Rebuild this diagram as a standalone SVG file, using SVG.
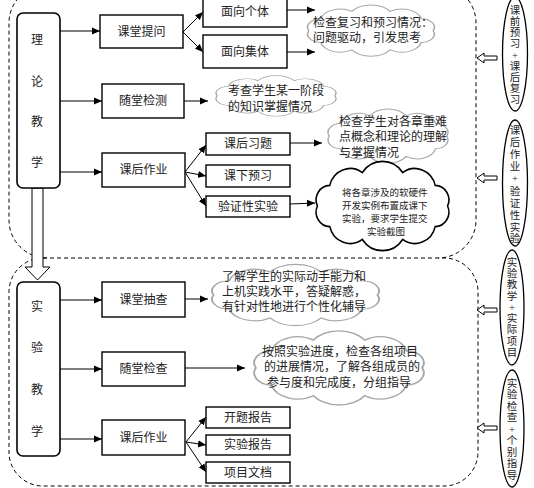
<svg xmlns="http://www.w3.org/2000/svg" width="534" height="488" viewBox="0 0 534 488">
<style>
text{font-family:"Liberation Serif","Noto Sans CJK SC",sans-serif;font-size:12px;fill:#222}
.box{fill:#fff;stroke:#000;stroke-width:1.4}
.tall{fill:#fff;stroke:#000;stroke-width:1.6}
.c{text-anchor:middle;dominant-baseline:central}
.l{dominant-baseline:central}
.dash{fill:none;stroke:#000;stroke-width:1;stroke-dasharray:4,3}
.ln{stroke:#000;stroke-width:1;fill:none;marker-end:url(#ah)}
.cloud{fill:#fff;stroke:#a8a8a8;stroke-width:1;vector-effect:non-scaling-stroke}
.cloudk{fill:#fff;stroke:#000;stroke-width:1;vector-effect:non-scaling-stroke}
.hollow{fill:#fff;stroke:#000;stroke-width:1}
.ell{fill:#fff;stroke:#000;stroke-width:1.3}
.small{font-size:9.5px}
.v{font-size:10.5px;text-anchor:middle;dominant-baseline:central}
</style>
<defs>
<marker id="ah" markerWidth="8" markerHeight="8" refX="8" refY="4" orient="auto" markerUnits="userSpaceOnUse"><path d="M0,0.5 L8,4 L0,7.5 Z" fill="#000"/></marker>
<path id="cl" d="M92,30 A9.1,9.1 0 0 1 84,42.9 A13.5,13.5 0 0 1 63,50.9 A15.6,15.6 0 0 1 37,50.9 A13.5,13.5 0 0 1 16,42.9 A9.1,9.1 0 0 1 8,30 A9.1,9.1 0 0 1 16,17.1 A13.5,13.5 0 0 1 37,9.1 A15.6,15.6 0 0 1 63,9.1 A13.5,13.5 0 0 1 84,17.1 A9.1,9.1 0 0 1 92,30 Z"/>
</defs>
<rect width="534" height="488" fill="#fff"/>

<g id="regions">
<path class="dash" d="M47,258 A38,38 0 0 1 9,220 L9,23 A38,38 0 0 1 47,-15 L438,-15 A38,38 0 0 1 476,23 L476,220 A38,38 0 0 1 438,258"/>
<rect class="dash" x="9" y="258" width="469" height="228" rx="34" ry="34"/>
</g>

<g id="connectors">
<line class="ln" x1="60" y1="31" x2="100" y2="31"/>
<line class="ln" x1="60" y1="101" x2="102" y2="101"/>
<line class="ln" x1="60" y1="172" x2="102" y2="172"/>
<line class="ln" x1="183" y1="32" x2="203" y2="12"/>
<line class="ln" x1="183" y1="32" x2="203" y2="52"/>
<line class="ln" x1="287" y1="10" x2="315" y2="10"/>
<line class="ln" x1="287" y1="52" x2="315" y2="52"/>
<line class="ln" x1="184" y1="101" x2="208" y2="101"/>
<line class="ln" x1="185" y1="172" x2="206" y2="145"/>
<line class="ln" x1="185" y1="172" x2="206" y2="176"/>
<line class="ln" x1="185" y1="172" x2="206" y2="206"/>
<line class="ln" x1="290" y1="143" x2="322" y2="143"/>
<line class="ln" x1="290" y1="204" x2="315" y2="203"/>
<line class="ln" x1="60" y1="300" x2="102" y2="300"/>
<line class="ln" x1="60" y1="369" x2="102" y2="369"/>
<line class="ln" x1="60" y1="439" x2="102" y2="439"/>
<line class="ln" x1="185" y1="299" x2="208" y2="299"/>
<line class="ln" x1="185" y1="368" x2="245" y2="368"/>
<line class="ln" x1="186" y1="442" x2="206" y2="417"/>
<line class="ln" x1="186" y1="442" x2="206" y2="445"/>
<line class="ln" x1="186" y1="442" x2="206" y2="472"/>
<path class="hollow" d="M32,188 L43,188 L43,267 L50,267 L37.5,280 L25,267 L32,267 Z"/>
<path class="hollow" d="M497,56 L484,56 L484,53 L477,58 L484,63 L484,60 L497,60 Z"/>
<path class="hollow" d="M497,176 L484,176 L484,173 L477,178 L484,183 L484,180 L497,180 Z"/>
<path class="hollow" d="M497,308 L484,308 L484,305 L477,310 L484,315 L484,312 L497,312 Z"/>
<path class="hollow" d="M497,426 L484,426 L484,423 L477,428 L484,433 L484,430 L497,430 Z"/>
</g>

<g id="n-lilun">
<rect class="tall" x="17" y="13" width="43" height="175" rx="6"/>
<text class="c" x="37" y="40">理</text>
<text class="c" x="37" y="82">论</text>
<text class="c" x="37" y="122">教</text>
<text class="c" x="37" y="163">学</text>
</g>
<g id="n-shiyan">
<rect class="tall" x="17" y="282" width="43" height="174" rx="6"/>
<text class="c" x="37" y="307">实</text>
<text class="c" x="37" y="348">验</text>
<text class="c" x="37" y="390">教</text>
<text class="c" x="37" y="432">学</text>
</g>

<g id="n-ketangtiwen"><rect class="box" x="100" y="15" width="83" height="33"/><text class="c" x="141.5" y="31.5">课堂提问</text></g>
<g id="n-suitangjiance"><rect class="box" x="102" y="84" width="82" height="34"/><text class="c" x="143" y="101">随堂检测</text></g>
<g id="n-kehouzuoye1"><rect class="box" x="102" y="153" width="83" height="34"/><text class="c" x="143.5" y="170">课后作业</text></g>
<g id="n-ketangchoucha"><rect class="box" x="102" y="282" width="83" height="35"/><text class="c" x="143.5" y="299.5">课堂抽查</text></g>
<g id="n-suitangjiancha"><rect class="box" x="102" y="352" width="83" height="34"/><text class="c" x="143.5" y="369">随堂检查</text></g>
<g id="n-kehouzuoye2"><rect class="box" x="102" y="420" width="83" height="35"/><text class="c" x="143.5" y="437.5">课后作业</text></g>

<g id="n-geti"><rect class="box" x="203" y="-2" width="84" height="29"/><text class="c" x="245" y="12">面向个体</text></g>
<g id="n-jiti"><rect class="box" x="203" y="35" width="84" height="33"/><text class="c" x="245" y="52">面向集体</text></g>
<g id="n-xiti"><rect class="box" x="206" y="133" width="84" height="22"/><text class="c" x="248" y="144">课后习题</text></g>
<g id="n-yuxi"><rect class="box" x="206" y="165" width="84" height="22"/><text class="c" x="248" y="176">课下预习</text></g>
<g id="n-yanzheng"><rect class="box" x="206" y="196" width="84" height="21"/><text class="c" x="248" y="206.5">验证性实验</text></g>
<g id="n-kaiti"><rect class="box" x="206" y="407" width="84" height="21"/><text class="c" x="248" y="417.5">开题报告</text></g>
<g id="n-shiyanbaogao"><rect class="box" x="206" y="435" width="84" height="20"/><text class="c" x="248" y="445">实验报告</text></g>
<g id="n-xiangmu"><rect class="box" x="206" y="462" width="84" height="21"/><text class="c" x="248" y="472.5">项目文档</text></g>

<g id="cloud1">
<use href="#cl" class="cloud" transform="translate(297,3) scale(1.48,0.92)"/>
<text class="l" x="313" y="23">检查复习和预习情况：</text>
<text class="l" x="313" y="38">问题驱动，引发思考</text>
</g>
<g id="cloud2">
<use href="#cl" class="cloud" transform="translate(206,74) scale(1.40,0.73)"/>
<text class="l" x="228" y="91">考查学生某一阶段</text>
<text class="l" x="228" y="107">的知识掌握情况</text>
</g>
<g id="cloud3">
<use href="#cl" class="cloud" transform="translate(318,107) scale(1.40,0.97)"/>
<text class="l" x="339" y="122">检查学生对各章重难</text>
<text class="l" x="339" y="137">点概念和理论的理解</text>
<text class="l" x="339" y="153">与掌握情况</text>
</g>
<g id="cloud4">
<use href="#cl" class="cloudk" transform="translate(305,158) scale(1.55,1.6)"/>
<text class="l small" x="342" y="193">将各章涉及的软硬件</text>
<text class="l small" x="342" y="206">开发实例布置成课下</text>
<text class="l small" x="342" y="219">实验，要求学生提交</text>
<text class="c small" x="386" y="232">实验截图</text>
</g>
<g id="cloud5">
<use href="#cl" class="cloud" transform="translate(198,262) scale(1.95,1.1)"/>
<text class="l" x="222" y="277">了解学生的实际动手能力和</text>
<text class="l" x="222" y="292">上机实践水平，答疑解惑，</text>
<text class="l" x="222" y="307">有针对性地进行个性化辅导</text>
</g>
<g id="cloud6">
<use href="#cl" class="cloud" transform="translate(240,328) scale(1.98,1.33)"/>
<text class="l" x="262" y="352">按照实验进度，检查各组项目</text>
<text class="l" x="264" y="367">的进展情况，了解各组成员的</text>
<text class="l" x="267" y="383">参与度和完成度，分组指导</text>
</g>

<g id="e1">
<ellipse class="ell" cx="515" cy="54" rx="12.5" ry="57"/>
<text class="v" x="515" y="10">课</text>
<text class="v" x="515" y="21">前</text>
<text class="v" x="515" y="32">预</text>
<text class="v" x="515" y="43.5">习</text>
<text class="v" x="515" y="55">+</text>
<text class="v" x="515" y="66">课</text>
<text class="v" x="515" y="77">后</text>
<text class="v" x="515" y="88">复</text>
<text class="v" x="515" y="99">习</text>
</g>
<g id="e2">
<ellipse class="ell" cx="515" cy="183" rx="12.5" ry="63"/>
<text class="v" x="515" y="130">课</text>
<text class="v" x="515" y="142">后</text>
<text class="v" x="515" y="154">作</text>
<text class="v" x="515" y="166">业</text>
<text class="v" x="515" y="178">+</text>
<text class="v" x="515" y="191">验</text>
<text class="v" x="515" y="203">证</text>
<text class="v" x="515" y="215">性</text>
<text class="v" x="515" y="227">实</text>
<text class="v" x="515" y="238">验</text>
</g>
<g id="e3">
<ellipse class="ell" cx="512" cy="307.5" rx="12" ry="57.5"/>
<text class="v" x="512" y="262">实</text>
<text class="v" x="512" y="273">验</text>
<text class="v" x="512" y="284.5">教</text>
<text class="v" x="512" y="296">学</text>
<text class="v" x="512" y="307">+</text>
<text class="v" x="512" y="318">实</text>
<text class="v" x="512" y="329.5">际</text>
<text class="v" x="512" y="341">项</text>
<text class="v" x="512" y="352">目</text>
</g>
<g id="e4">
<ellipse class="ell" cx="512" cy="428.5" rx="12" ry="58.5"/>
<text class="v" x="512" y="383">实</text>
<text class="v" x="512" y="394.5">验</text>
<text class="v" x="512" y="406">检</text>
<text class="v" x="512" y="417.5">查</text>
<text class="v" x="512" y="429">+</text>
<text class="v" x="512" y="440.5">个</text>
<text class="v" x="512" y="452">别</text>
<text class="v" x="512" y="463.5">指</text>
<text class="v" x="512" y="475">导</text>
</g>
</svg>
